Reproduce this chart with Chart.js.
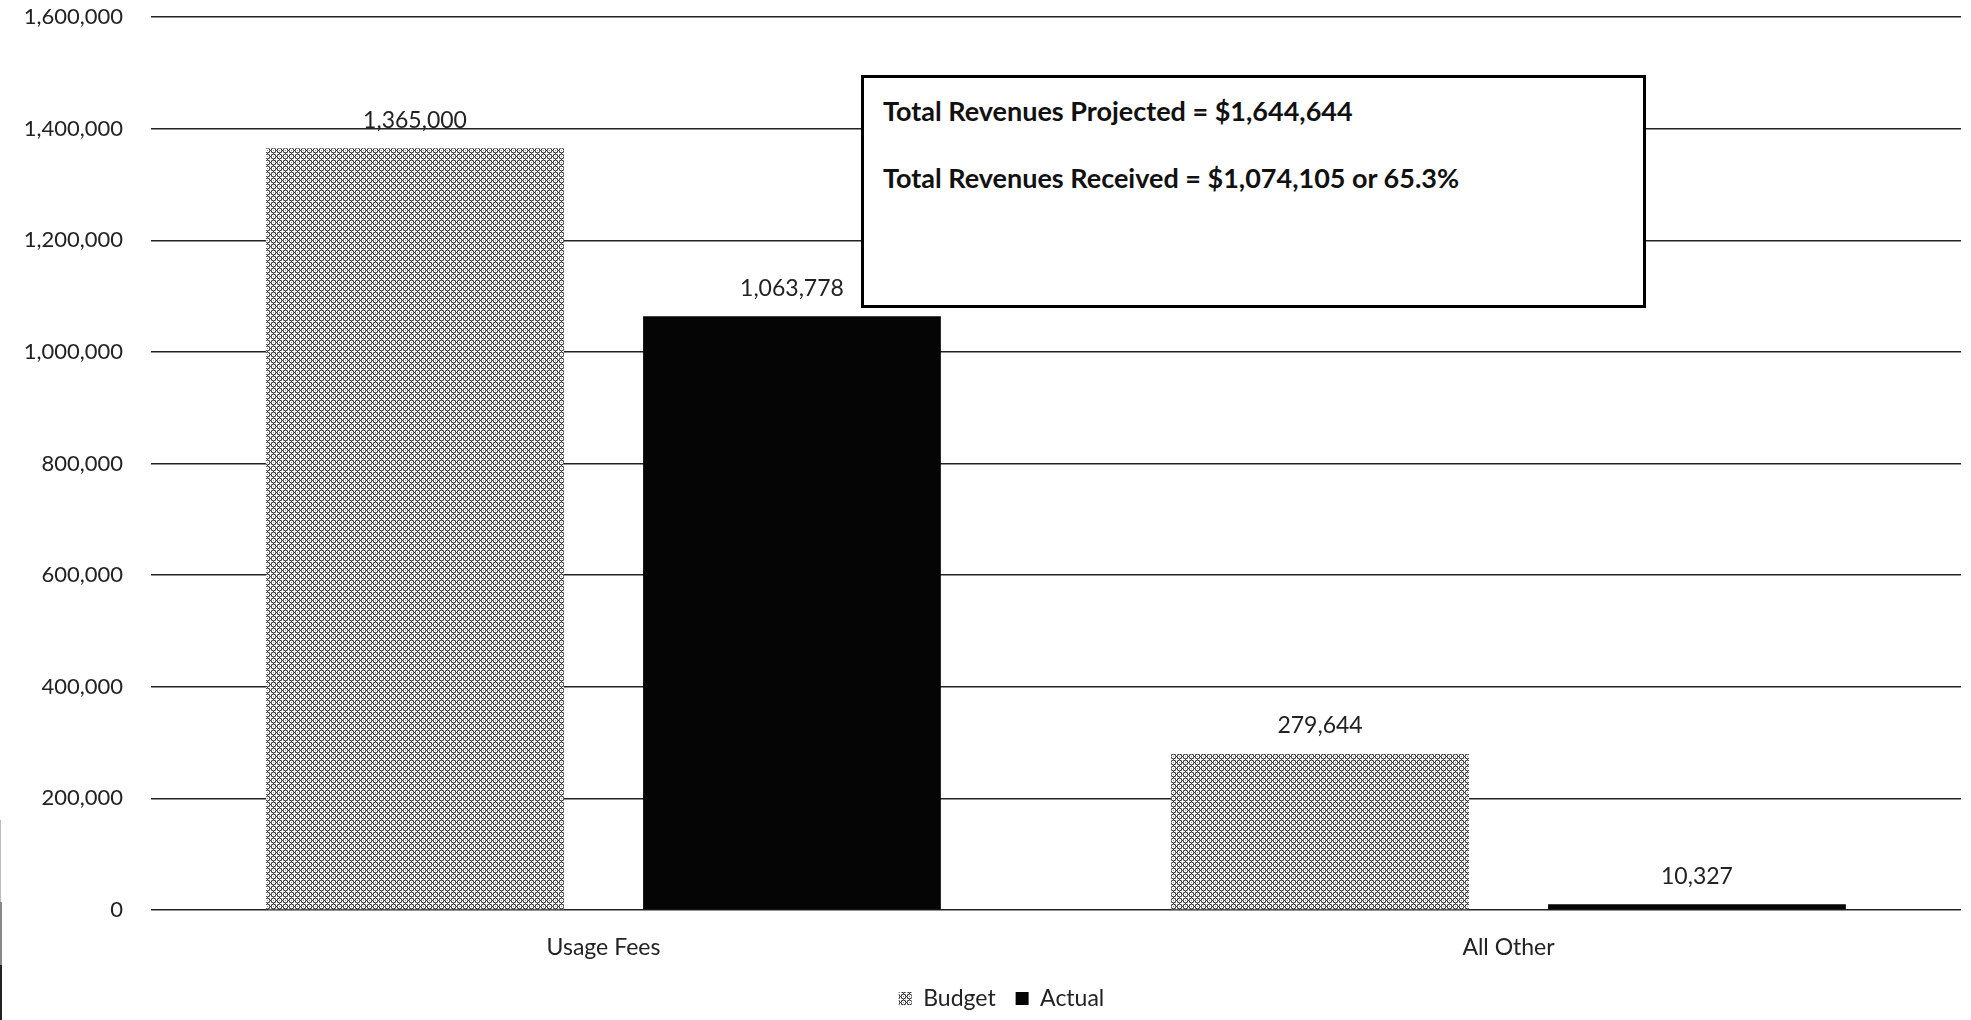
<!DOCTYPE html>
<html>
<head>
<meta charset="utf-8">
<title>Revenues: Budget vs Actual</title>
<script src="https://cdn.jsdelivr.net/npm/chart.js@4.4.1/dist/chart.umd.min.js"></script>
<style>
  html, body { margin: 0; padding: 0; background: #fff; }
  #wrap { position: relative; width: 1971px; height: 1020px; overflow: hidden; }
  #revChart { position: absolute; left: 0; top: 0; }
  #totals {
    position: absolute; left: 861px; top: 75px; width: 779px; height: 227px;
    border: 3px solid #000; background: #fff;
    font-family: Lato, 'Open Sans', sans-serif; font-weight: bold; font-size: 27px; color: #111;
  }
  #totals div { position: absolute; left: 19px; line-height: 32px; white-space: nowrap; }
  .edge { position: absolute; left: 0; }
</style>
</head>
<body>
<div id="wrap">
  <canvas id="revChart" width="1971" height="1020"></canvas>
  <div id="totals">
    <div style="top:17px">Total Revenues Projected = $1,644,644</div>
    <div style="top:84px">Total Revenues Received = $1,074,105 or 65.3%</div>
  </div>
  <div class="edge" style="top:820px;height:82px;width:1px;background:#bbb"></div>
  <div class="edge" style="top:902px;height:63px;width:2px;background:#888"></div>
  <div class="edge" style="top:965px;height:55px;width:2px;background:#222"></div>
</div>
<script>
const categories = ['Usage Fees', 'All Other'];
const budget = [1365000, 279644];
const actual = [1063778, 10327];
const yTicks = [0, 200000, 400000, 600000, 800000, 1000000, 1200000, 1400000, 1600000];

const FONT = "Lato, 'Open Sans', sans-serif";
const fmt = v => Number(v).toLocaleString('en-US');

// crosshatch + stipple fill used for the budget bars
function hatchPattern() {
  const n = 6;
  const c = document.createElement('canvas');
  c.width = n; c.height = n;
  const g = c.getContext('2d');
  g.fillStyle = '#fff';
  g.fillRect(0, 0, n, n);
  for (let i = 0; i < n; i++) {
    for (let j = 0; j < n; j++) {
      if ((i - j + n) % n === 0 || (i + j) % n === 0) {
        g.fillStyle = '#333';
        g.fillRect(i, j, 1, 1);
      } else if (i % 2 === 1 && j % 2 === 0) {
        g.fillStyle = '#8a8a8a';
        g.fillRect(i, j, 1, 1);
      }
    }
  }
  return g.createPattern(c, 'repeat');
}

const valueLabels = {
  id: 'valueLabels',
  afterDatasetsDraw(chart) {
    const ctx = chart.ctx;
    ctx.save();
    ctx.font = '23px ' + FONT;
    ctx.fillStyle = '#222';
    ctx.textAlign = 'center';
    ctx.textBaseline = 'middle';
    chart.data.datasets.forEach((ds, i) => {
      chart.getDatasetMeta(i).data.forEach((bar, j) => {
        ctx.fillText(fmt(ds.data[j]), bar.x, bar.y - 28);
      });
    });
    ctx.restore();
  }
};

// nudge the legend row a little right of the canvas centre
const legendShift = {
  id: 'legendShift',
  afterLayout(chart) {
    chart.legend.left += 21;
    chart.legend.right += 21;
  }
};

new Chart(document.getElementById('revChart'), {
  type: 'bar',
  data: {
    labels: categories,
    datasets: [
      { label: 'Budget', data: budget, backgroundColor: hatchPattern(), borderWidth: 0 },
      { label: 'Actual', data: actual, backgroundColor: '#050505', borderWidth: 0 }
    ]
  },
  options: {
    responsive: false,
    animation: false,
    devicePixelRatio: 1,
    categoryPercentage: 0.833,
    barPercentage: 0.79,
    layout: { padding: { top: 17, right: 10, left: 0, bottom: 0 } },
    scales: {
      x: {
        grid: { display: false },
        border: { display: false },
        ticks: { font: { family: FONT, size: 23 }, color: '#222', padding: 16 },
        afterFit(s) { s.height = 57; }
      },
      y: {
        min: 0,
        max: 1600000,
        afterBuildTicks(s) { s.ticks = yTicks.map(v => ({ value: v })); },
        ticks: { font: { family: FONT, size: 22 }, color: '#222', padding: 28, callback: v => fmt(v) },
        grid: { color: '#222', lineWidth: 1.5, drawTicks: false },
        border: { display: false },
        afterFit(s) { s.width = 151; s.paddingTop = 0; s.paddingBottom = 0; }
      }
    },
    plugins: {
      legend: {
        position: 'bottom',
        labels: { boxWidth: 13, boxHeight: 13, padding: 20, color: '#222', font: { family: FONT, size: 23 } }
      },
      tooltip: { enabled: false }
    }
  },
  plugins: [valueLabels, legendShift]
});
</script>
</body>
</html>
